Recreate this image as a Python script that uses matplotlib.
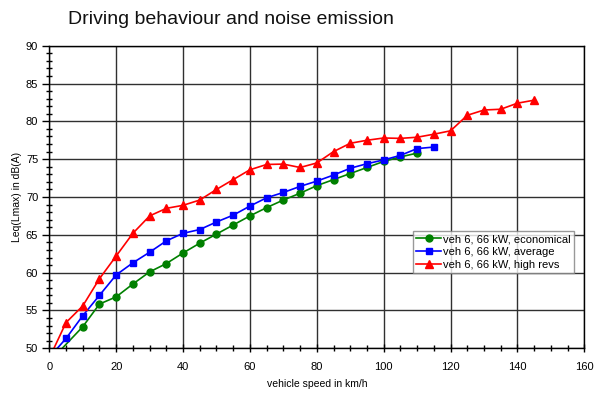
import matplotlib
matplotlib.use("Agg")
import matplotlib.pyplot as plt
from matplotlib.ticker import MultipleLocator
from matplotlib import font_manager

speed_econ = [0, 10, 15, 20, 25, 30, 35, 40, 45, 50, 55, 60, 65, 70, 75, 80, 85, 90, 95, 100, 105, 110]
econ = [48.2, 52.85, 55.85, 56.8, 58.5, 60.1, 61.2, 62.6, 63.9, 65.1, 66.3, 67.5, 68.6, 69.6, 70.5, 71.5, 72.3, 73.1, 73.9, 74.7, 75.3, 75.8]

speed_avg = [0, 5, 10, 15, 20, 25, 30, 35, 40, 45, 50, 55, 60, 65, 70, 75, 80, 85, 90, 95, 100, 105, 110, 115]
avg = [48.8, 51.3, 54.3, 57.0, 59.7, 61.3, 62.7, 64.2, 65.2, 65.7, 66.7, 67.6, 68.8, 69.9, 70.6, 71.4, 72.1, 72.9, 73.8, 74.4, 74.9, 75.5, 76.4, 76.6]

speed_high = [0, 5, 10, 15, 20, 25, 30, 35, 40, 45, 50, 55, 60, 65, 70, 75, 80, 85, 90, 95, 100, 105, 110, 115, 120, 125, 130, 135, 140, 145]
high = [48.7, 53.4, 55.6, 59.2, 62.2, 65.2, 67.5, 68.5, 68.9, 69.6, 71.0, 72.3, 73.6, 74.3, 74.35, 73.9, 74.5, 76.0, 77.1, 77.5, 77.8, 77.75, 77.9, 78.3, 78.75, 80.8, 81.5, 81.6, 82.4, 82.8]

labels = ["veh 6, 66 kW, economical", "veh 6, 66 kW, average", "veh 6, 66 kW, high revs"]

plt.rcParams['font.family'] = ['Liberation Sans', 'DejaVu Sans']

names = {f.name for f in font_manager.fontManager.ttflist}
if 'Liberation Sans Narrow' in names:
    title_family, title_size = ['Liberation Sans Narrow', 'Liberation Sans'], 16
elif 'DejaVu Sans Condensed' in names:
    title_family, title_size = ['DejaVu Sans Condensed', 'DejaVu Sans'], 14
else:
    title_family, title_size = ['Liberation Sans', 'DejaVu Sans'], 14

fig = plt.figure(figsize=(5.96, 3.94), dpi=100)
ax = fig.add_axes([49.3/596, 1-348.3/394, (584.3-49.3)/596, (348.3-45.7)/394])

ax.plot(speed_econ, econ, color='#008000', marker='o', ms=5, lw=1.2, label=labels[0])
ax.plot(speed_avg, avg, color='#0000FF', marker='s', ms=5, lw=1.2, label=labels[1])
ax.plot(speed_high, high, color='#FF0000', marker='^', ms=5.5, lw=1.2, label=labels[2])

ax.set_xlim(0, 160)
ax.set_ylim(50, 90)
ax.xaxis.set_major_locator(MultipleLocator(20))
ax.xaxis.set_minor_locator(MultipleLocator(5))
ax.yaxis.set_major_locator(MultipleLocator(5))
ax.yaxis.set_minor_locator(MultipleLocator(1))
ax.tick_params(which='major', direction='inout', length=6, width=1, labelsize=8, color='black')
ax.tick_params(which='minor', direction='inout', length=4, width=1, color='black')
ax.tick_params(axis='x', which='major', pad=7)
ax.tick_params(axis='y', which='major', direction='out', length=5, pad=3)
ax.grid(True, which='major', color='#303030', lw=1)
ax.set_axisbelow(True)
for s in ax.spines.values():
    s.set_color('black')
    s.set_linewidth(1)

ax.set_xlabel("vehicle speed in km/h", fontsize=7.5, labelpad=5)
ax.set_ylabel("Leq(Lmax) in dB(A)", fontsize=7.5, labelpad=3)

fig.text(68/596, 1-20/394, "Driving behaviour and noise emission",
         fontsize=title_size, family=title_family, va='center', ha='left', color='#111111')

leg = ax.legend(loc='upper left', bbox_to_anchor=((413-49.3)/535, (348.3-231)/302.6),
                fontsize=8, frameon=True, fancybox=False, edgecolor='#808080',
                borderpad=0.3, labelspacing=0.25, handlelength=2.2, handletextpad=0.2, borderaxespad=0)
leg.get_frame().set_linewidth(1)

fig.savefig("out.png", dpi=100, facecolor='white')
